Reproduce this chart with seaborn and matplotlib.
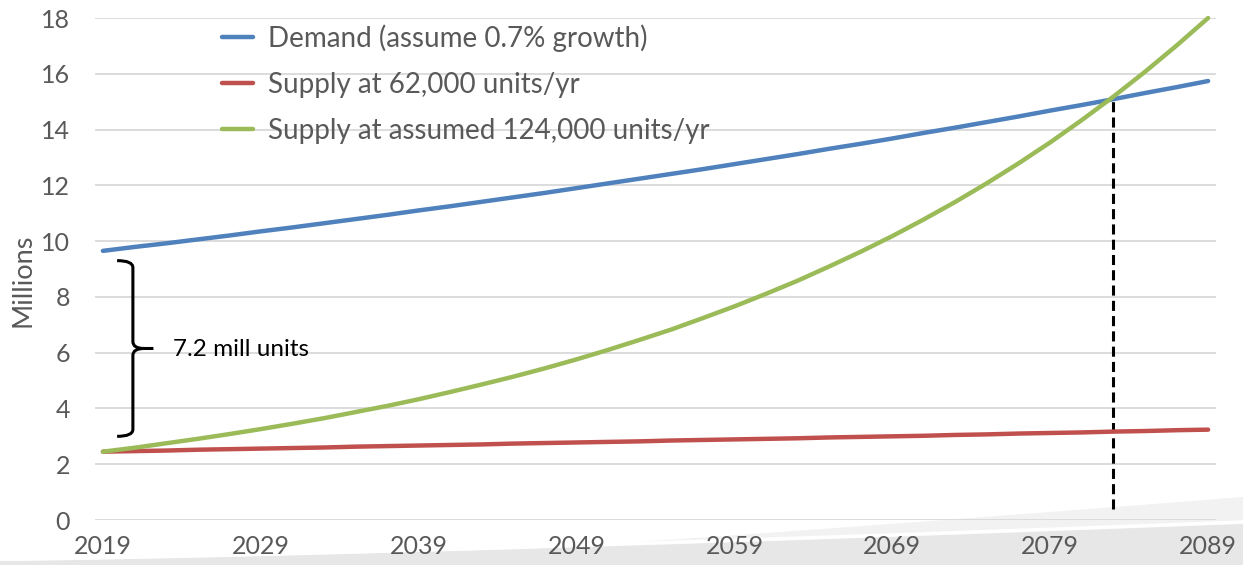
import numpy as np
import pandas as pd
import matplotlib
matplotlib.use("Agg")
import matplotlib.pyplot as plt
from matplotlib.patches import Polygon, PathPatch
from matplotlib.path import Path
from matplotlib.transforms import IdentityTransform
import seaborn as sns

# ---- data (millions of housing units), every two years ----
years = [2019, 2021, 2023, 2025, 2027, 2029, 2031, 2033, 2035, 2037, 2039, 2041,
         2043, 2045, 2047, 2049, 2051, 2053, 2055, 2057, 2059, 2061, 2063, 2065,
         2067, 2069, 2071, 2073, 2075, 2077, 2079, 2081, 2083, 2085, 2087, 2089]
demand = [9.65, 9.79, 9.92, 10.06, 10.20, 10.35, 10.49, 10.64, 10.79, 10.94,
          11.10, 11.25, 11.41, 11.57, 11.73, 11.90, 12.07, 12.24, 12.41, 12.58,
          12.76, 12.94, 13.12, 13.31, 13.49, 13.68, 13.88, 14.07, 14.27, 14.47,
          14.68, 14.88, 15.09, 15.31, 15.52, 15.74]
supply_62k = [2.45, 2.47, 2.49, 2.52, 2.54, 2.56, 2.58, 2.60, 2.63, 2.65,
              2.67, 2.69, 2.71, 2.74, 2.76, 2.78, 2.80, 2.82, 2.85, 2.87,
              2.89, 2.91, 2.93, 2.96, 2.98, 3.00, 3.02, 3.05, 3.07, 3.10,
              3.12, 3.14, 3.17, 3.19, 3.22, 3.24]
supply_124k = [2.45, 2.59, 2.75, 2.91, 3.08, 3.26, 3.45, 3.65, 3.87, 4.09,
               4.33, 4.59, 4.86, 5.14, 5.44, 5.76, 6.10, 6.46, 6.83, 7.24,
               7.66, 8.11, 8.58, 9.09, 9.62, 10.18, 10.78, 11.41, 12.08, 12.79,
               13.54, 14.34, 15.18, 16.07, 17.01, 18.00]
series_names = ["Demand (assume 0.7% growth)",
                "Supply at 62,000 units/yr",
                "Supply at assumed 124,000 units/yr"]
series_colors = ["#4F81BD", "#C0504D", "#9BBB59"]
x_ticks = [2019, 2029, 2039, 2049, 2059, 2069, 2079, 2089]
y_ticks = [0, 2, 4, 6, 8, 10, 12, 14, 16, 18]
crossover_year = 2083
crossover_value = 15.15
gap_label = "7.2 mill units"
gap_low, gap_high = 3.0, 9.3

df = pd.concat([
    pd.DataFrame({"Year": years, "Millions": vals, "Series": name})
    for name, vals in zip(series_names, [demand, supply_62k, supply_124k])
], ignore_index=True)

sns.set_theme(style="white")
plt.rcParams["font.family"] = ["Lato", "DejaVu Sans"]

W, H, DPI = 1243, 565, 100
fig = plt.figure(figsize=(W / DPI, H / DPI), dpi=DPI)
fig.patch.set_facecolor("white")

# decorative grey swoosh along the bottom of the slide
xs = np.linspace(0, W, 200)
top_a = 565 - 68 * ((xs - 250).clip(0) / (W - 250)) ** 1.15
top_b = 561 - 37 * (xs / W) ** 1.3
pa = np.column_stack([np.r_[xs, xs[::-1]], np.r_[H - top_a, np.zeros_like(xs)]])
pb = np.column_stack([np.r_[xs, xs[::-1]], np.r_[H - top_b, np.zeros_like(xs)]])
fig.patches.append(Polygon(pa, closed=True, facecolor="#f2f2f2", edgecolor="none",
                           transform=IdentityTransform(), figure=fig, zorder=-3))
fig.patches.append(Polygon(pb, closed=True, facecolor="#e7e7e7", edgecolor="none",
                           transform=IdentityTransform(), figure=fig, zorder=-2))
fig.patches.append(Polygon(np.column_stack([xs, H - top_b + 2]), closed=False,
                           fill=False, edgecolor="white", linewidth=2.5,
                           transform=IdentityTransform(), figure=fig, zorder=-1))

ax = fig.add_axes([95 / W, 45 / H, (1216 - 95) / W, (547 - 45) / H])
ax.set_facecolor("none")

sns.lineplot(data=df, x="Year", y="Millions", hue="Series",
             palette=dict(zip(series_names, series_colors)),
             linewidth=3.2, ax=ax, legend=True, clip_on=False, zorder=3)

ax.set_xlim(2018.5, 2089.5)
ax.set_ylim(0, 18)
ax.set_xticks(x_ticks)
ax.set_yticks(y_ticks)
ax.grid(axis="y", color="#d9d9d9", linewidth=1.3)
ax.grid(axis="x", visible=False)
for s in ax.spines.values():
    s.set_visible(False)
ax.tick_params(axis="both", length=0, labelsize=18, labelcolor="#595959")
ax.tick_params(axis="y", pad=18)
ax.tick_params(axis="x", pad=11)
ax.set_xlabel("")
ax.set_ylabel("Millions", fontsize=19.5, color="#595959")
ax.yaxis.set_label_coords(-0.053, 0.478)

# dashed marker at the crossover year
ax.plot([crossover_year, crossover_year], [0.4, crossover_value], color="black",
        linewidth=2.2, dashes=(3.3, 1.7), zorder=2)

# curly brace marking the starting gap
bx, hook, tip = 2020.9, 2019.9, 2022.2
mid = (gap_low + gap_high) / 2
r = 0.25
verts = [
    (hook, gap_high), (bx, gap_high), (bx, gap_high - r),
    (bx, mid + r), (bx, mid), (tip - 0.6, mid), (tip, mid),
]
codes = [Path.MOVETO, Path.CURVE3, Path.CURVE3,
         Path.LINETO, Path.CURVE3, Path.CURVE3, Path.LINETO]
verts2 = [
    (hook, gap_low), (bx, gap_low), (bx, gap_low + r),
    (bx, mid - r), (bx, mid), (tip - 0.6, mid),
]
codes2 = [Path.MOVETO, Path.CURVE3, Path.CURVE3,
          Path.LINETO, Path.CURVE3, Path.CURVE3]
for v, c in [(verts, codes), (verts2, codes2)]:
    ax.add_patch(PathPatch(Path(v, c), fill=False, edgecolor="black",
                           linewidth=2.2, zorder=4))
ax.text(2023.45, mid - 0.05, gap_label, fontsize=17.5, color="black",
        va="center", ha="left", zorder=4)

handles, labels = ax.get_legend_handles_labels()
for h in handles:
    h.set_linewidth(3.2)
ax.legend(handles, labels, loc="upper left",
          bbox_to_anchor=(222 / W, (H - 24) / H), bbox_transform=fig.transFigure,
          frameon=False, fontsize=20, labelcolor="#595959",
          handlelength=1.1, handletextpad=0.55, labelspacing=0.72,
          borderpad=0, borderaxespad=0)

fig.savefig("out.png", dpi=DPI)
